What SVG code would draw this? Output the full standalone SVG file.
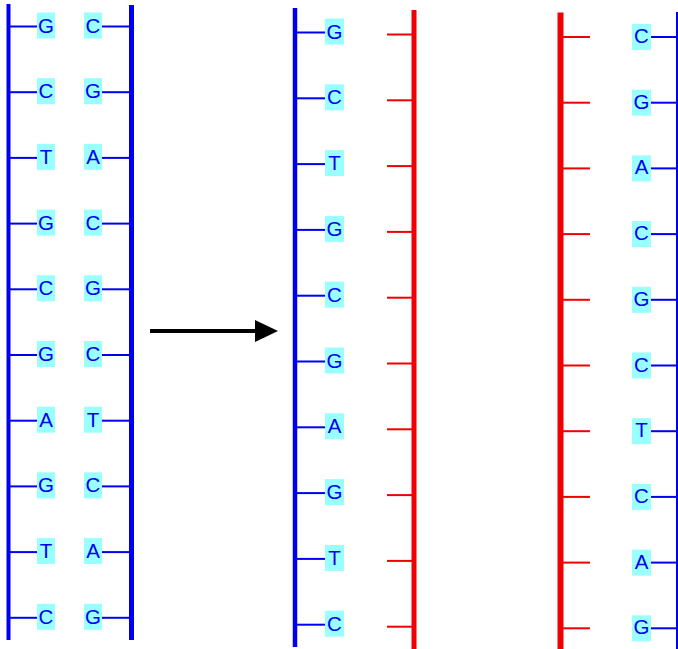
<svg xmlns="http://www.w3.org/2000/svg" width="678" height="649" viewBox="0 0 678 649">
<style>
.bb{fill:#9ff}
.t{font-family:"Liberation Sans",Arial,sans-serif;font-size:20.5px;fill:#0000f0;text-anchor:middle}
.bt{stroke:#0000f0;stroke-width:2}
.rt{stroke:#f00000;stroke-width:2}
.bs{stroke:#0000f0}
.rs{stroke:#f00000}
</style>
<rect width="678" height="649" fill="#fff"/>
<g id="connectors">
<line x1="150" y1="331" x2="258" y2="331" stroke="#000" stroke-width="4"/>
<polygon points="255,320 278,331 255,342" fill="#000"/>
</g>
<g id="original-duplex">
<line class="bs" x1="8.5" y1="4" x2="8.5" y2="640" stroke-width="4"/>
<line class="bs" x1="131.5" y1="5" x2="131.5" y2="640" stroke-width="5"/>
<g id="pair1"><line class="bt" x1="10" y1="26.5" x2="37" y2="26.5"/><line class="bt" x1="102" y1="26.5" x2="130" y2="26.5"/><rect class="bb" x="37" y="12.5" width="18" height="26"/><rect class="bb" x="84" y="12.5" width="18" height="26"/><text class="t" x="46" y="32.5">G</text><text class="t" x="93" y="32.5">C</text></g>
<g id="pair2"><line class="bt" x1="10" y1="92.2" x2="37" y2="92.2"/><line class="bt" x1="102" y1="92.2" x2="130" y2="92.2"/><rect class="bb" x="37" y="78.2" width="18" height="26"/><rect class="bb" x="84" y="78.2" width="18" height="26"/><text class="t" x="46" y="98.2">C</text><text class="t" x="93" y="98.2">G</text></g>
<g id="pair3"><line class="bt" x1="10" y1="157.9" x2="37" y2="157.9"/><line class="bt" x1="102" y1="157.9" x2="130" y2="157.9"/><rect class="bb" x="37" y="143.9" width="18" height="26"/><rect class="bb" x="84" y="143.9" width="18" height="26"/><text class="t" x="46" y="163.9">T</text><text class="t" x="93" y="163.9">A</text></g>
<g id="pair4"><line class="bt" x1="10" y1="223.6" x2="37" y2="223.6"/><line class="bt" x1="102" y1="223.6" x2="130" y2="223.6"/><rect class="bb" x="37" y="209.6" width="18" height="26"/><rect class="bb" x="84" y="209.6" width="18" height="26"/><text class="t" x="46" y="229.6">G</text><text class="t" x="93" y="229.6">C</text></g>
<g id="pair5"><line class="bt" x1="10" y1="289.3" x2="37" y2="289.3"/><line class="bt" x1="102" y1="289.3" x2="130" y2="289.3"/><rect class="bb" x="37" y="275.3" width="18" height="26"/><rect class="bb" x="84" y="275.3" width="18" height="26"/><text class="t" x="46" y="295.3">C</text><text class="t" x="93" y="295.3">G</text></g>
<g id="pair6"><line class="bt" x1="10" y1="355" x2="37" y2="355"/><line class="bt" x1="102" y1="355" x2="130" y2="355"/><rect class="bb" x="37" y="341" width="18" height="26"/><rect class="bb" x="84" y="341" width="18" height="26"/><text class="t" x="46" y="361">G</text><text class="t" x="93" y="361">C</text></g>
<g id="pair7"><line class="bt" x1="10" y1="420.7" x2="37" y2="420.7"/><line class="bt" x1="102" y1="420.7" x2="130" y2="420.7"/><rect class="bb" x="37" y="406.7" width="18" height="26"/><rect class="bb" x="84" y="406.7" width="18" height="26"/><text class="t" x="46" y="426.7">A</text><text class="t" x="93" y="426.7">T</text></g>
<g id="pair8"><line class="bt" x1="10" y1="486.4" x2="37" y2="486.4"/><line class="bt" x1="102" y1="486.4" x2="130" y2="486.4"/><rect class="bb" x="37" y="472.4" width="18" height="26"/><rect class="bb" x="84" y="472.4" width="18" height="26"/><text class="t" x="46" y="492.4">G</text><text class="t" x="93" y="492.4">C</text></g>
<g id="pair9"><line class="bt" x1="10" y1="552.1" x2="37" y2="552.1"/><line class="bt" x1="102" y1="552.1" x2="130" y2="552.1"/><rect class="bb" x="37" y="538.1" width="18" height="26"/><rect class="bb" x="84" y="538.1" width="18" height="26"/><text class="t" x="46" y="558.1">T</text><text class="t" x="93" y="558.1">A</text></g>
<g id="pair10"><line class="bt" x1="10" y1="617.8" x2="37" y2="617.8"/><line class="bt" x1="102" y1="617.8" x2="130" y2="617.8"/><rect class="bb" x="37" y="603.8" width="18" height="26"/><rect class="bb" x="84" y="603.8" width="18" height="26"/><text class="t" x="46" y="623.8">C</text><text class="t" x="93" y="623.8">G</text></g>
</g>
<g id="copy1">
<line class="bs" x1="295" y1="8" x2="295" y2="647" stroke-width="4.5"/>
<line class="rs" x1="414" y1="10" x2="414" y2="649" stroke-width="5"/>
<g id="m1"><line class="bt" x1="297" y1="32.5" x2="325" y2="32.5"/><rect class="bb" x="325" y="18.5" width="19" height="26"/><text class="t" x="334.5" y="38.5">G</text><line class="rt" x1="387" y1="34.5" x2="412" y2="34.5"/></g>
<g id="m2"><line class="bt" x1="297" y1="98.3" x2="325" y2="98.3"/><rect class="bb" x="325" y="84.3" width="19" height="26"/><text class="t" x="334.5" y="104.3">C</text><line class="rt" x1="387" y1="100.3" x2="412" y2="100.3"/></g>
<g id="m3"><line class="bt" x1="297" y1="164.1" x2="325" y2="164.1"/><rect class="bb" x="325" y="150.1" width="19" height="26"/><text class="t" x="334.5" y="170.1">T</text><line class="rt" x1="387" y1="166.1" x2="412" y2="166.1"/></g>
<g id="m4"><line class="bt" x1="297" y1="229.9" x2="325" y2="229.9"/><rect class="bb" x="325" y="215.9" width="19" height="26"/><text class="t" x="334.5" y="235.9">G</text><line class="rt" x1="387" y1="231.9" x2="412" y2="231.9"/></g>
<g id="m5"><line class="bt" x1="297" y1="295.7" x2="325" y2="295.7"/><rect class="bb" x="325" y="281.7" width="19" height="26"/><text class="t" x="334.5" y="301.7">C</text><line class="rt" x1="387" y1="297.7" x2="412" y2="297.7"/></g>
<g id="m6"><line class="bt" x1="297" y1="361.5" x2="325" y2="361.5"/><rect class="bb" x="325" y="347.5" width="19" height="26"/><text class="t" x="334.5" y="367.5">G</text><line class="rt" x1="387" y1="363.5" x2="412" y2="363.5"/></g>
<g id="m7"><line class="bt" x1="297" y1="427.3" x2="325" y2="427.3"/><rect class="bb" x="325" y="413.3" width="19" height="26"/><text class="t" x="334.5" y="433.3">A</text><line class="rt" x1="387" y1="429.3" x2="412" y2="429.3"/></g>
<g id="m8"><line class="bt" x1="297" y1="493.1" x2="325" y2="493.1"/><rect class="bb" x="325" y="479.1" width="19" height="26"/><text class="t" x="334.5" y="499.1">G</text><line class="rt" x1="387" y1="495.1" x2="412" y2="495.1"/></g>
<g id="m9"><line class="bt" x1="297" y1="558.9" x2="325" y2="558.9"/><rect class="bb" x="325" y="544.9" width="19" height="26"/><text class="t" x="334.5" y="564.9">T</text><line class="rt" x1="387" y1="560.9" x2="412" y2="560.9"/></g>
<g id="m10"><line class="bt" x1="297" y1="624.7" x2="325" y2="624.7"/><rect class="bb" x="325" y="610.7" width="19" height="26"/><text class="t" x="334.5" y="630.7">C</text><line class="rt" x1="387" y1="626.7" x2="412" y2="626.7"/></g>
</g>
<g id="copy2">
<line class="rs" x1="560.5" y1="12.5" x2="560.5" y2="649" stroke-width="6"/>
<line class="bs" x1="677" y1="12" x2="677" y2="649" stroke-width="2"/>
<g id="r1"><line class="rt" x1="563" y1="37" x2="590" y2="37"/><rect class="bb" x="632" y="24" width="19" height="26"/><text class="t" x="641.5" y="43">C</text><line class="bt" x1="651" y1="37" x2="677" y2="37"/></g>
<g id="r2"><line class="rt" x1="563" y1="102.7" x2="590" y2="102.7"/><rect class="bb" x="632" y="89.7" width="19" height="26"/><text class="t" x="641.5" y="108.7">G</text><line class="bt" x1="651" y1="102.7" x2="677" y2="102.7"/></g>
<g id="r3"><line class="rt" x1="563" y1="168.4" x2="590" y2="168.4"/><rect class="bb" x="632" y="155.4" width="19" height="26"/><text class="t" x="641.5" y="174.4">A</text><line class="bt" x1="651" y1="168.4" x2="677" y2="168.4"/></g>
<g id="r4"><line class="rt" x1="563" y1="234.1" x2="590" y2="234.1"/><rect class="bb" x="632" y="221.1" width="19" height="26"/><text class="t" x="641.5" y="240.1">C</text><line class="bt" x1="651" y1="234.1" x2="677" y2="234.1"/></g>
<g id="r5"><line class="rt" x1="563" y1="299.8" x2="590" y2="299.8"/><rect class="bb" x="632" y="286.8" width="19" height="26"/><text class="t" x="641.5" y="305.8">G</text><line class="bt" x1="651" y1="299.8" x2="677" y2="299.8"/></g>
<g id="r6"><line class="rt" x1="563" y1="365.5" x2="590" y2="365.5"/><rect class="bb" x="632" y="352.5" width="19" height="26"/><text class="t" x="641.5" y="371.5">C</text><line class="bt" x1="651" y1="365.5" x2="677" y2="365.5"/></g>
<g id="r7"><line class="rt" x1="563" y1="431.2" x2="590" y2="431.2"/><rect class="bb" x="632" y="418.2" width="19" height="26"/><text class="t" x="641.5" y="437.2">T</text><line class="bt" x1="651" y1="431.2" x2="677" y2="431.2"/></g>
<g id="r8"><line class="rt" x1="563" y1="496.9" x2="590" y2="496.9"/><rect class="bb" x="632" y="483.9" width="19" height="26"/><text class="t" x="641.5" y="502.9">C</text><line class="bt" x1="651" y1="496.9" x2="677" y2="496.9"/></g>
<g id="r9"><line class="rt" x1="563" y1="562.6" x2="590" y2="562.6"/><rect class="bb" x="632" y="549.6" width="19" height="26"/><text class="t" x="641.5" y="568.6">A</text><line class="bt" x1="651" y1="562.6" x2="677" y2="562.6"/></g>
<g id="r10"><line class="rt" x1="563" y1="628.3" x2="590" y2="628.3"/><rect class="bb" x="632" y="615.3" width="19" height="26"/><text class="t" x="641.5" y="634.3">G</text><line class="bt" x1="651" y1="628.3" x2="677" y2="628.3"/></g>
</g>
</svg>
